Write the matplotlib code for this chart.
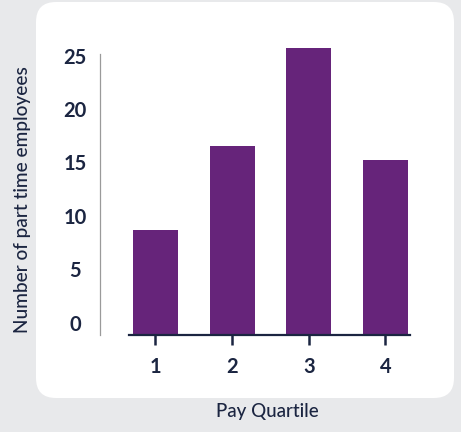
import matplotlib
matplotlib.use("Agg")
import matplotlib.pyplot as plt
from matplotlib.patches import FancyBboxPatch

quartiles = ["1", "2", "3", "4"]
employees = [8.7, 16.5, 25.7, 15.2]
yticks = [0, 5, 10, 15, 20, 25]

NAVY = "#1b2541"
PURPLE = "#66247a"
BG = "#e8e9eb"

plt.rcParams['font.family'] = ['Lato', 'DejaVu Sans']

W, H = 461, 432
fig = plt.figure(figsize=(W / 100, H / 100), dpi=100, facecolor=BG)

panel = FancyBboxPatch((36, H - 398), 418, 396, boxstyle="round,pad=0,rounding_size=20",
                       transform=None, facecolor="white", edgecolor="none", zorder=-10)
fig.patches.append(panel)

ax = fig.add_axes([100 / W, (H - 335) / H, (410 - 100) / W, (335 - 45) / H])
ax.set_zorder(5)
ax.patch.set_visible(False)

ymin, ymax = -1.17, 26.0
ax.set_ylim(ymin, ymax)
ax.set_xlim(0.276, 4.32)

x = list(range(1, len(quartiles) + 1))
ax.bar(x, [v - ymin for v in employees], bottom=ymin, width=0.587, color=PURPLE, zorder=2)

for s in ["top", "right"]:
    ax.spines[s].set_visible(False)
ax.spines["left"].set_color("#9a9a9a")
ax.spines["left"].set_linewidth(0.9)
ax.spines["left"].set_bounds(ymin, 25.2)
ax.spines["bottom"].set_color(NAVY)
ax.spines["bottom"].set_linewidth(1.6)
ax.spines["bottom"].set_bounds(0.65, 4.32)
ax.spines["bottom"].set_zorder(3)

ax.set_xticks(x)
ax.set_xticklabels(quartiles)
ax.tick_params(axis="x", length=7, width=1.8, color=NAVY, pad=9,
               labelsize=14.5, labelcolor=NAVY)
for t in ax.get_xticklabels():
    t.set_fontweight("bold")

ax.set_yticks(yticks)
ax.set_yticklabels([str(v) for v in yticks])
ax.tick_params(axis="y", length=0, pad=18, labelsize=14.5, labelcolor=NAVY)
for t in ax.get_yticklabels():
    t.set_fontweight("bold")
    t.set_horizontalalignment("center")

fig.text(23 / W, 1 - 200 / H, "Number of part time employees", rotation=90,
         ha="center", va="center", fontsize=13.7, color=NAVY, fontweight="medium")
fig.text(267 / W, 1 - 411 / H, "Pay Quartile", ha="center", va="center",
         fontsize=13.5, color=NAVY, fontweight="medium")

fig.savefig("out.png", dpi=100, facecolor=BG)
